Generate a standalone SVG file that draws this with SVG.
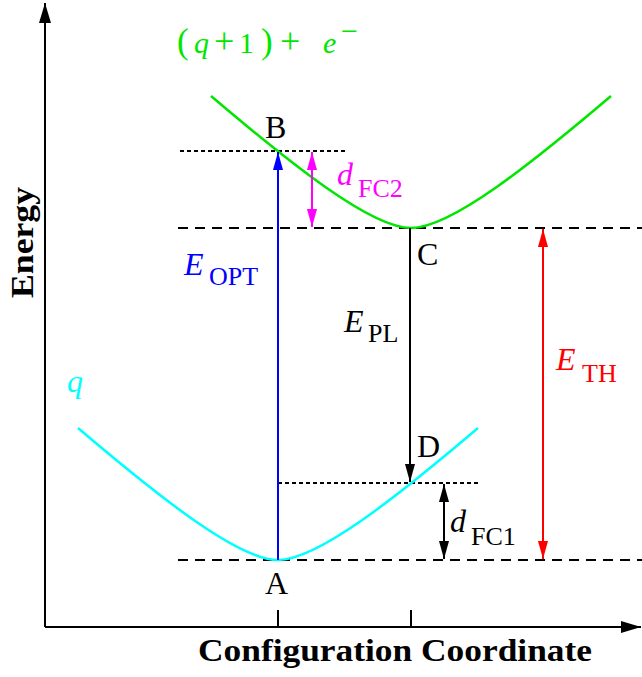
<svg xmlns="http://www.w3.org/2000/svg" width="642" height="677" viewBox="0 0 642 677">
<style>
text{font-family:"Liberation Serif","Times New Roman",serif;}
.lab{font-size:32px;fill:#000;}
.it{font-style:italic;}
.sub{font-size:26px;}
.ax{stroke:#000;stroke-width:2;fill:none;}
.dash{stroke:#000;stroke-width:2;stroke-dasharray:10 7;fill:none;}
.dot{stroke:#000;stroke-width:2;stroke-dasharray:4 3;fill:none;}
.curve{stroke-width:2.5;fill:none;}
.arr{stroke-width:2;fill:none;}
</style>
<defs>
<marker id="axh" markerUnits="userSpaceOnUse" markerWidth="22" markerHeight="12" refX="20" refY="6" orient="auto"><path d="M0,0 L20,6 L0,12 z" fill="#000"/></marker>
<marker id="hb" markerUnits="userSpaceOnUse" markerWidth="20" markerHeight="10" refX="18" refY="5" orient="auto"><path d="M0,0 L18,5 L0,10 z" fill="#0000ff"/></marker>
<marker id="hm" markerUnits="userSpaceOnUse" markerWidth="20" markerHeight="10" refX="18" refY="5" orient="auto-start-reverse"><path d="M0,0 L18,5 L0,10 z" fill="#ff00ff"/></marker>
<marker id="hk" markerUnits="userSpaceOnUse" markerWidth="20" markerHeight="10" refX="18" refY="5" orient="auto-start-reverse"><path d="M0,0 L18,5 L0,10 z" fill="#000"/></marker>
<marker id="hr" markerUnits="userSpaceOnUse" markerWidth="20" markerHeight="10" refX="18" refY="5" orient="auto-start-reverse"><path d="M0,0 L18,5 L0,10 z" fill="#ff0000"/></marker>
</defs>
<rect width="642" height="677" fill="#fff"/>

<g id="axes">
<path class="ax" d="M45,627 L45,3" marker-end="url(#axh)"/>
<path class="ax" d="M45,627 L641,627" marker-end="url(#axh)"/>
<path class="ax" d="M278,610 L278,627 M411,610 L411,627"/>
<text x="0" y="0" transform="translate(33,298) rotate(-90)" font-size="32" font-weight="bold" textLength="111" lengthAdjust="spacingAndGlyphs">Energy</text>
<text x="198" y="661" font-size="32" font-weight="bold" textLength="394" lengthAdjust="spacingAndGlyphs">Configuration Coordinate</text>
</g>

<g id="levels">
<path class="dash" d="M178,560 L642,560"/>
<path class="dash" d="M178,228 L642,228"/>
<path class="dot" d="M180,151 L346,151"/>
<path class="dot" d="M278,483 L479,483"/>
</g>

<g id="curve-q">
<path class="curve" stroke="#00ffff" d="M78,428 C158,496 238,560 278,560 C318,560 398,496 478,428"/>
<text class="lab it" x="67" y="392" style="fill:#00ffff">q</text>
</g>

<g id="curve-q1">
<path class="curve" stroke="#00e600" d="M211,96 C291,164 371,228 411,228 C451,228 531,164 611,96"/>
<text font-size="30" fill="#00e600" y="53"><tspan x="177" font-size="35">(</tspan><tspan x="194" font-style="italic">q</tspan><tspan x="214" font-size="36">+</tspan><tspan x="239">1</tspan><tspan x="261" font-size="35">)</tspan><tspan x="280" font-size="36">+</tspan><tspan x="323" font-style="italic">e</tspan><tspan x="341" y="41">−</tspan></text>
</g>

<g id="points">
<text class="lab" x="265" y="138">B</text>
<text class="lab" x="417" y="265">C</text>
<text class="lab" x="417" y="457">D</text>
<text class="lab" x="265" y="594">A</text>
</g>

<g id="connectors">
<path class="arr" stroke="#0000ff" d="M278,560 L278,152" marker-end="url(#hb)"/>
<path class="arr" stroke="#ff00ff" d="M312,152 L312,227" marker-start="url(#hm)" marker-end="url(#hm)"/>
<path class="arr" stroke="#000" d="M410,228 L410,482" marker-end="url(#hk)"/>
<path class="arr" stroke="#000" d="M444,484 L444,559" marker-start="url(#hk)" marker-end="url(#hk)"/>
<path class="arr" stroke="#ff0000" d="M543,229 L543,559" marker-start="url(#hr)" marker-end="url(#hr)"/>
</g>

<g id="energy-labels">
<text x="184" y="275" font-size="32" font-style="italic" fill="#0000ff">E</text>
<text x="209" y="285" font-size="26" fill="#0000ff">OPT</text>
<text x="344" y="332" font-size="32" font-style="italic" fill="#000">E</text>
<text x="368" y="342" font-size="26" fill="#000">PL</text>
<text x="556" y="370" font-size="32" font-style="italic" fill="#ff0000">E</text>
<text x="582" y="382" font-size="26" fill="#ff0000">TH</text>
<text x="337" y="185" font-size="32" font-style="italic" fill="#ff00ff">d</text>
<text x="358" y="197" font-size="26" fill="#ff00ff">FC2</text>
<text x="450" y="532" font-size="32" font-style="italic" fill="#000">d</text>
<text x="471" y="545" font-size="26" fill="#000">FC1</text>
</g>
</svg>
